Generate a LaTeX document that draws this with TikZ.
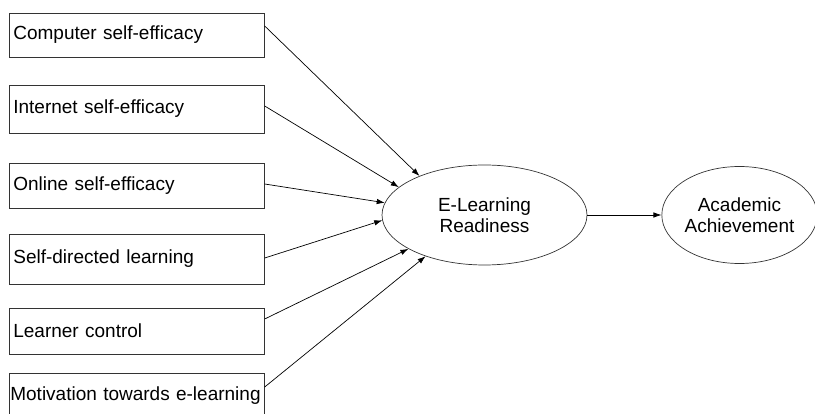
\documentclass[tikz,border=0pt]{standalone}
\usepackage{fontspec}
\setmainfont{Liberation Sans}
\usetikzlibrary{arrows.meta,shapes.geometric}

\begin{document}
\begin{tikzpicture}
  [x=1pt,y=-1pt,every node/.style={draw=black!80,line width=0.7pt,font=\fontsize{19}{21.5}\selectfont},
   box/.style={rectangle,anchor=west,text width=247pt,align=left,inner xsep=4pt,inner ysep=0pt},
   oval/.style={ellipse,inner sep=0pt,align=center},
   arr/.style={line width=0.7pt,-{Latex[length=8pt,width=5.5pt]}}]
  \useasboundingbox (0,0) rectangle (815,414);
  \clip (0,0) rectangle (815,414);
  \node[box,minimum height=44pt] (c) at (9,35) {Computer self-efficacy};
  \node[box,minimum height=48pt] (i) at (9,109) {Internet self-efficacy};
  \node[box,minimum height=45pt] (o) at (9,185.5) {Online self-efficacy};
  \node[box,minimum height=50pt] (s) at (9,259) {Self-directed learning};
  \node[box,minimum height=46pt] (l) at (9,331) {Learner control};
  \node[box,minimum height=46pt,text width=253pt,inner xsep=1pt] (m) at (9,396) {Motivation towards e-learning};

  \node[oval,minimum width=205pt,minimum height=100pt] (r) at (484.5,215) {E-Learning\\Readiness};
  \node[oval,minimum width=155pt,minimum height=97pt] (a) at (739.5,215) {Academic\\Achievement};

  \foreach \from/\dy/\ang in {c/9/149.7,i/3/162.2,o/1.5/173.2,s/1/183.4,l/12/204.8,m/9/215.4}
    \draw[arr] ([yshift=\dy pt]\from.east) -- (r.\ang);
  \draw[arr] (r) -- (a);

\end{tikzpicture}
\end{document}
